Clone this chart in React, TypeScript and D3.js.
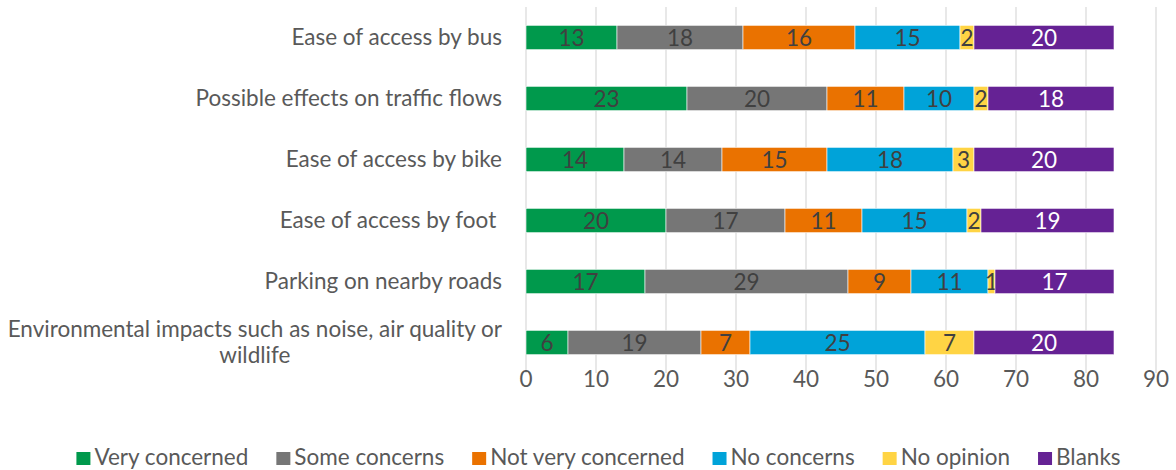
import React, { useEffect, useRef } from "react";
import * as d3 from "d3";

const categories = [
  "Ease of access by bus",
  "Possible effects on traffic flows",
  "Ease of access by bike",
  "Ease of access by foot ",
  "Parking on nearby roads",
  "Environmental impacts such as noise, air quality or wildlife",
];
const seriesNames = ["Very concerned", "Some concerns", "Not very concerned", "No concerns", "No opinion", "Blanks"];
const veryConcerned = [13, 23, 14, 20, 17, 6];
const someConcerns = [18, 20, 14, 17, 29, 19];
const notVeryConcerned = [16, 11, 15, 11, 9, 7];
const noConcerns = [15, 10, 18, 15, 11, 25];
const noOpinion = [2, 2, 3, 2, 1, 7];
const blanks = [20, 18, 20, 19, 17, 20];
const xTicks = [0, 10, 20, 30, 40, 50, 60, 70, 80, 90];

const colors = ["#00994c", "#767676", "#ea7200", "#00a3d9", "#ffd444", "#652294"];
const labelColors = ["#404040", "#404040", "#404040", "#404040", "#404040", "#ffffff"];
const FONT = "Lato, 'Open Sans', sans-serif";
const FS = 22.5;

export default function App() {
  const ref = useRef<SVGSVGElement>(null);
  useEffect(() => {
    document.body.style.margin = "0";
    const svg = d3.select(ref.current);
    svg.selectAll("*").remove();
    const series = [veryConcerned, someConcerns, notVeryConcerned, noConcerns, noOpinion, blanks];
    const x = d3.scaleLinear().domain([0, 90]).range([526, 1156]);
    const y = d3.scaleBand().domain(categories).range([7, 373]).paddingInner(0.6).paddingOuter(0.3);
    const top = 7, bottom = 373;

    // gridlines
    svg.append("g").selectAll("line").data(xTicks).join("line")
      .attr("x1", d => x(d)).attr("x2", d => x(d))
      .attr("y1", top).attr("y2", bottom)
      .attr("stroke", "#d9d9d9").attr("stroke-width", 1.2);

    // tick labels
    svg.append("g").selectAll("text").data(xTicks).join("text")
      .attr("x", d => x(d)).attr("y", 379).attr("dy", "0.35em")
      .attr("text-anchor", "middle").attr("font-family", FONT).attr("font-size", FS)
      .attr("fill", "#595959").text(d => String(d));

    // stacked data
    const rows = categories.map((c, i) => {
      const o: any = { cat: c };
      seriesNames.forEach((s, j) => (o[s] = series[j][i]));
      return o;
    });
    const stacked = d3.stack().keys(seriesNames)(rows);
    stacked.forEach((layer, j) => {
      const g = svg.append("g");
      g.selectAll("rect").data(layer).join("rect")
        .attr("x", d => x(d[0])).attr("width", d => x(d[1]) - x(d[0]))
        .attr("y", (d: any) => y(d.data.cat)!).attr("height", y.bandwidth())
        .attr("fill", colors[j]).attr("stroke", "#ffffff").attr("stroke-width", 0.6);
      g.selectAll("text").data(layer).join("text")
        .attr("x", d => (x(d[0]) + x(d[1])) / 2)
        .attr("y", (d: any) => y(d.data.cat)! + y.bandwidth() / 2).attr("dy", "0.36em")
        .attr("text-anchor", "middle").attr("font-family", FONT).attr("font-size", FS)
        .attr("fill", labelColors[j]).text(d => String(d[1] - d[0]));
    });

    // category labels
    const labelX = 502;
    categories.forEach(c => {
      const cy = y(c)! + y.bandwidth() / 2;
      const t = svg.append("text").attr("font-family", FONT).attr("font-size", FS).attr("fill", "#595959")
        .attr("xml:space", "preserve").style("white-space", "pre");
      if (c.length > 40) {
        const l1 = "Environmental impacts such as noise, air quality or";
        const l2 = "wildlife";
        t.attr("x", labelX).attr("y", cy - 13).attr("dy", "0.35em").attr("text-anchor", "end").text(l1);
        const w = (t.node() as SVGTextElement).getComputedTextLength();
        svg.append("text").attr("font-family", FONT).attr("font-size", FS).attr("fill", "#595959")
          .attr("x", labelX - w / 2).attr("y", cy + 13).attr("dy", "0.35em").attr("text-anchor", "middle").text(l2);
      } else {
        t.attr("x", labelX).attr("y", cy).attr("dy", "0.35em").attr("text-anchor", "end").text(c);
      }
    });

    // legend
    const lg = svg.append("g");
    let cx = 0;
    const ly = 457;
    const sw = 14;
    seriesNames.forEach((s, j) => {
      lg.append("rect").attr("x", cx).attr("y", 452).attr("width", sw).attr("height", 13).attr("fill", colors[j]);
      const t = lg.append("text").attr("x", cx + sw + 4).attr("y", ly).attr("dy", "0.35em")
        .attr("font-family", FONT).attr("font-size", FS).attr("fill", "#595959").text(s);
      const w = (t.node() as SVGTextElement).getComputedTextLength();
      cx += sw + 4 + w + 28;
    });
    const total = cx - 28;
    lg.attr("transform", `translate(${598.5 - total / 2},0)`);
  }, []);
  return <svg ref={ref} width={1176} height={470} style={{ display: "block", background: "#fff" }} />;
}
